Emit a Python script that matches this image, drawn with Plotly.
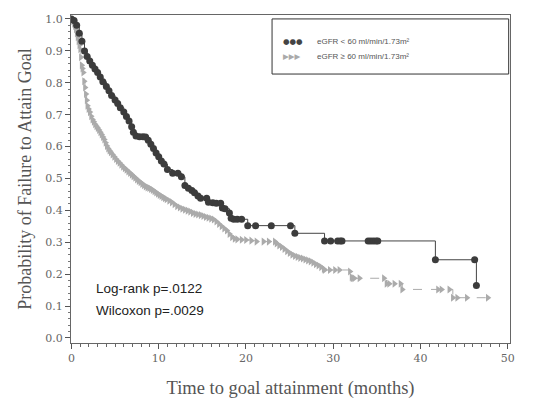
import plotly.graph_objects as go

# Group 1: eGFR < 60 (dark circles, solid step line)
t_low = [0.0, 0.3, 0.6, 0.9, 1.2, 1.5, 1.8, 2.1, 2.4, 2.7, 3.0, 3.3, 3.6, 4.0, 4.3, 4.6, 5.0, 5.3, 5.6,
         6.0, 6.3, 6.6, 6.9, 7.1, 7.4, 7.8, 8.2, 8.5, 8.8, 9.1, 9.4, 9.7, 10.0, 10.3, 10.6, 11.0, 11.6,
         12.2, 12.6, 13.0, 13.4, 13.8, 14.1, 14.5, 14.8, 15.5, 15.7, 16.2, 16.6, 17.1, 17.3, 17.6, 18.1,
         18.3, 18.6, 19.0, 19.5, 20.2, 21.1, 22.9, 25.1, 25.6, 29.0, 29.7, 30.5, 30.8, 31.0, 34.0, 34.3,
         34.6, 34.9, 35.1, 41.7, 46.2, 46.4]
s_low = [1.000, 0.995, 0.980, 0.955, 0.930, 0.900, 0.882, 0.868, 0.855, 0.843, 0.832, 0.818, 0.803, 0.788,
         0.775, 0.760, 0.746, 0.735, 0.722, 0.708, 0.694, 0.680, 0.662, 0.645, 0.633, 0.631, 0.631, 0.630,
         0.620, 0.607, 0.594, 0.580, 0.568, 0.555, 0.545, 0.528, 0.516, 0.516, 0.505, 0.478, 0.469, 0.462,
         0.455, 0.445, 0.438, 0.438, 0.425, 0.424, 0.422, 0.422, 0.407, 0.405, 0.392, 0.375, 0.372, 0.372,
         0.372, 0.352, 0.352, 0.352, 0.352, 0.328, 0.304, 0.304, 0.304, 0.304, 0.304, 0.304, 0.304, 0.304,
         0.304, 0.304, 0.245, 0.245, 0.164]

# Group 2: eGFR >= 60 (light triangles, dashed step line)
t_high = [0.00, 0.10, 0.20, 0.30, 0.40, 0.50, 0.60, 0.70, 0.80, 0.90, 1.00, 1.08, 1.17, 1.25, 1.35, 1.45,
          1.55, 1.65, 1.74, 1.82, 1.95, 2.10, 2.25, 2.40, 2.55, 2.70, 2.85, 3.00, 3.15, 3.30, 3.45, 3.60,
          3.75, 3.90, 4.05, 4.20, 4.35, 4.50, 4.70, 4.90, 5.10, 5.30, 5.50, 5.70, 5.90, 6.10, 6.30, 6.50,
          6.70, 6.90, 7.10, 7.30, 7.50, 7.70, 7.90, 8.10, 8.30, 8.50, 8.70, 8.90, 9.10, 9.30, 9.50, 9.70,
          9.90, 10.10, 10.30, 10.50, 10.70, 10.90, 11.20, 11.50, 11.80, 12.10, 12.40, 12.70, 13.00, 13.30,
          13.60, 13.90, 14.20, 14.50, 14.80, 15.10, 15.40, 15.70, 16.00, 16.30, 16.60, 16.90, 17.20, 17.50,
          17.80, 18.10, 18.40, 18.70, 19.00, 19.50, 20.00, 20.60, 21.20, 22.00, 22.60, 23.30, 23.50, 23.80,
          24.10, 24.40, 24.70, 25.00, 25.30, 25.60, 25.90, 26.20, 26.50, 26.80, 27.10, 27.40, 27.70, 28.00,
          28.30, 28.60, 28.90, 29.00, 29.60, 30.20, 30.70, 31.90, 32.10, 32.20, 32.40, 33.00, 35.80, 36.10,
          36.40, 37.00, 37.70, 37.90, 42.00, 42.40, 43.30, 43.70, 44.20, 45.30, 47.70]
s_high = [1.000, 0.998, 0.993, 0.985, 0.978, 0.968, 0.955, 0.943, 0.930, 0.918, 0.905, 0.880, 0.855, 0.845,
          0.832, 0.805, 0.785, 0.765, 0.745, 0.728, 0.718, 0.708, 0.695, 0.685, 0.678, 0.670, 0.664, 0.658,
          0.652, 0.645, 0.638, 0.630, 0.622, 0.612, 0.602, 0.594, 0.588, 0.582, 0.575, 0.568, 0.561, 0.555,
          0.549, 0.543, 0.537, 0.532, 0.527, 0.522, 0.517, 0.512, 0.507, 0.502, 0.497, 0.492, 0.488, 0.483,
          0.479, 0.475, 0.472, 0.470, 0.467, 0.464, 0.460, 0.456, 0.452, 0.448, 0.445, 0.441, 0.438, 0.435,
          0.430, 0.425, 0.419, 0.413, 0.409, 0.405, 0.402, 0.399, 0.396, 0.392, 0.389, 0.387, 0.385, 0.382,
          0.379, 0.377, 0.374, 0.371, 0.365, 0.357, 0.350, 0.343, 0.337, 0.326, 0.316, 0.311, 0.309, 0.308,
          0.307, 0.305, 0.302, 0.302, 0.302, 0.302, 0.296, 0.290, 0.285, 0.279, 0.272, 0.266, 0.261, 0.257,
          0.254, 0.251, 0.249, 0.246, 0.243, 0.240, 0.236, 0.231, 0.227, 0.222, 0.216, 0.213, 0.213, 0.213,
          0.213, 0.208, 0.190, 0.187, 0.187, 0.187, 0.187, 0.170, 0.170, 0.170, 0.170, 0.152, 0.152, 0.152,
          0.152, 0.126, 0.126, 0.126, 0.126]

legend_labels = ["eGFR < 60 ml/min/1.73m²", "eGFR ≥ 60 ml/min/1.73m²"]
stat_labels = ["Log-rank p=.0122", "Wilcoxon p=.0029"]
x_title = "Time to goal attainment (months)"
y_title = "Probability of Failure to Attain Goal"

fig = go.Figure()
fig.add_trace(go.Scatter(
    x=t_high, y=s_high, mode="lines+markers", line_shape="hv",
    line=dict(color="#ababab", width=1, dash="dash"),
    marker=dict(symbol="triangle-right", size=7, color="#ababab"),
    name=legend_labels[1], showlegend=False))
fig.add_trace(go.Scatter(
    x=t_low, y=s_low, mode="lines+markers", line_shape="hv",
    line=dict(color="#444444", width=1),
    marker=dict(symbol="circle", size=7, color="#3c3c3c"),
    name=legend_labels[0], showlegend=False))

serif = "Liberation Serif"
tickserif = "DejaVu Serif"
fig.update_layout(
    width=530, height=401,
    margin=dict(l=63, r=28, t=7, b=66),
    paper_bgcolor="white", plot_bgcolor="white",
    xaxis=dict(range=[-0.05, 50.25], tickmode="array", tickvals=[0, 10, 20, 30, 40, 50],
               ticks="outside", ticklen=5, tickcolor="#555", automargin=False,
               minor=dict(dtick=1, ticks="outside", ticklen=3, tickcolor="#666"),
               showline=True, linecolor="#666", linewidth=1, mirror=True,
               showgrid=False, zeroline=False,
               tickfont=dict(family=tickserif, size=11, color="#666"),
               title=dict(text=x_title, font=dict(family=serif, size=18.5, color="#555"), standoff=16)),
    yaxis=dict(range=[-0.016, 1.0125], tickmode="array",
               tickvals=[0, 0.1, 0.2, 0.3, 0.4, 0.5, 0.6, 0.7, 0.8, 0.9, 1.0],
               tickformat=".1f", ticks="outside", ticklen=5, tickcolor="#555", automargin=False,
               minor=dict(dtick=0.02, ticks="outside", ticklen=2, tickcolor="#777"),
               showline=True, linecolor="#666", linewidth=1, mirror=True,
               showgrid=False, zeroline=False,
               tickfont=dict(family=tickserif, size=11, color="#666"),
               title=dict(text=y_title, font=dict(family=serif, size=18, color="#555"), standoff=8)),
)

# legend box
fig.add_shape(type="rect", xref="paper", yref="paper", x0=0.458, x1=0.997, y0=0.820, y1=0.988,
              line=dict(color="#333", width=1), fillcolor="rgba(0,0,0,0)")
leg_y = [0.918, 0.872]
fig.add_annotation(xref="paper", yref="paper", x=0.479, y=leg_y[0], text="●●●", showarrow=False,
                   xanchor="left", yanchor="middle", font=dict(family="DejaVu Sans", size=7.5, color="#444"))
fig.add_annotation(xref="paper", yref="paper", x=0.479, y=leg_y[1], text="▶▶▶", showarrow=False,
                   xanchor="left", yanchor="middle", font=dict(family="DejaVu Sans", size=7.5, color="#aaa"))
for lab, yy in zip(legend_labels, leg_y):
    fig.add_annotation(xref="paper", yref="paper", x=0.555, y=yy, text=lab, showarrow=False,
                       xanchor="left", yanchor="middle",
                       font=dict(family="Liberation Sans", size=8, color="#555"))

for lab, yy in zip(stat_labels, [0.165, 0.098]):
    fig.add_annotation(xref="paper", yref="paper", x=0.052, y=yy, text=lab, showarrow=False,
                       xanchor="left", yanchor="middle",
                       font=dict(family="Liberation Sans", size=13.5, color="#222"))

fig.write_html("out.html")
